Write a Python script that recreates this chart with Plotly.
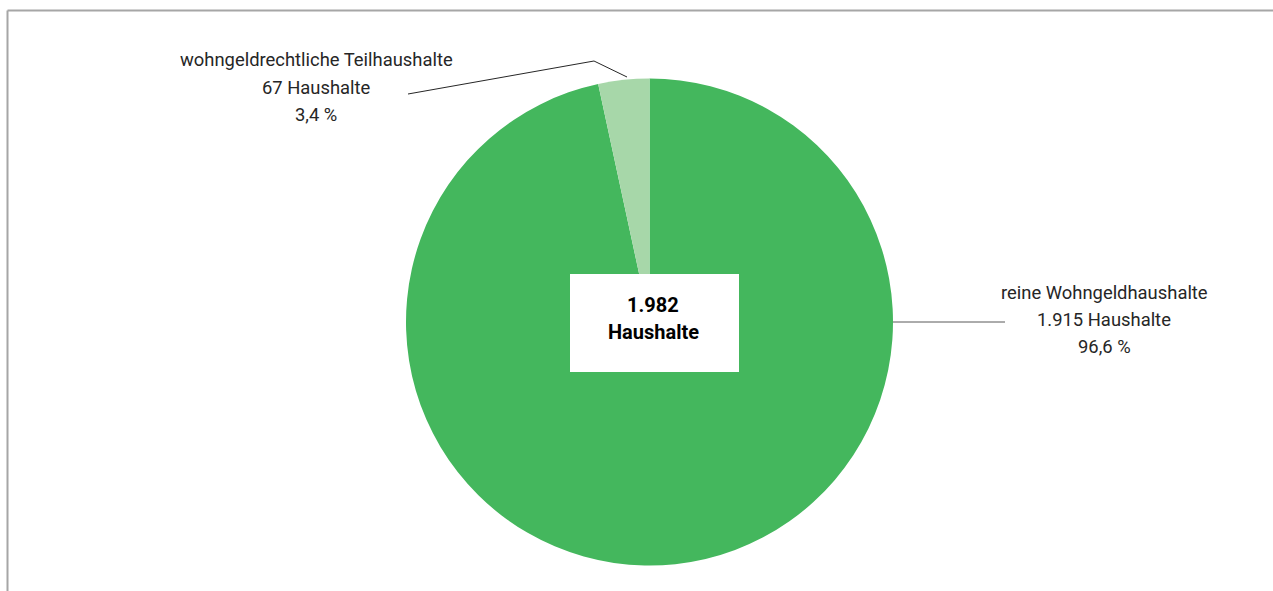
import math
import plotly.graph_objects as go

# Data (order as drawn clockwise from 12 o'clock)
labels = ["reine Wohngeldhaushalte", "wohngeldrechtliche Teilhaushalte"]
values = [1915, 67]
percent_labels = ["96,6 %", "3,4 %"]
count_labels = ["1.915 Haushalte", "67 Haushalte"]
total_lines = ["1.982", "Haushalte"]
colors = ["#44B75D", "#A7D7A9"]

W, H = 1273, 591
cx, cy, r = 649.5, 322.0, 243.5

def px(x):
    return x / W

def py(y):
    return 1 - y / H

FONT = "Roboto"
fig = go.Figure(go.Pie(
    labels=labels, values=values, sort=False, direction="clockwise",
    rotation=0, marker=dict(colors=colors, line=dict(width=0)),
    textinfo="none", hoverinfo="label+value+percent", showlegend=False,
    domain=dict(x=[px(cx - r), px(cx + r)], y=[py(cy + r), py(cy - r)]),
))

shapes = [
    # frame
    dict(type="line", xref="paper", yref="paper", x0=px(7.5), x1=px(W), y0=py(10.5), y1=py(10.5),
         line=dict(color="#A6A6A6", width=2)),
    dict(type="line", xref="paper", yref="paper", x0=px(7.5), x1=px(7.5), y0=py(10.5), y1=py(H),
         line=dict(color="#A6A6A6", width=2)),
    # center box
    dict(type="rect", xref="paper", yref="paper", x0=px(570), x1=px(739), y0=py(372), y1=py(274),
         fillcolor="white", line=dict(width=0), layer="above"),
    # leader lines
    dict(type="path", xref="paper", yref="paper",
         path=f"M {px(627)},{py(77)} L {px(594)},{py(61)} L {px(408)},{py(94)}",
         line=dict(color="#262626", width=1)),
    dict(type="line", xref="paper", yref="paper", x0=px(cx + r), x1=px(1005), y0=py(cy), y1=py(cy),
         line=dict(color="#595959", width=1)),
]

annotations = []
def add_lines(lines, x, y0, size, color, bold=False, step=27):
    for i, t in enumerate(lines):
        annotations.append(dict(
            xref="paper", yref="paper", x=px(x), y=py(y0 + i * step),
            xanchor="center", yanchor="middle", showarrow=False,
            text=f"<b>{t}</b>" if bold else t,
            font=dict(family=FONT, size=size, color=color)))

add_lines([labels[1], count_labels[1], percent_labels[1]], 316, 60, 18.4, "#262626")
add_lines([labels[0], count_labels[0], percent_labels[0]], 1104, 292, 18.4, "#262626")
add_lines(total_lines, 653, 305, 20, "#000000", bold=True)

fig.update_layout(width=W, height=H, margin=dict(l=0, r=0, t=0, b=0),
                  paper_bgcolor="white", plot_bgcolor="white",
                  shapes=shapes, annotations=annotations)
fig.write_html("out.html", config={"displayModeBar": False},
               post_script="document.body.style.margin='0';")
